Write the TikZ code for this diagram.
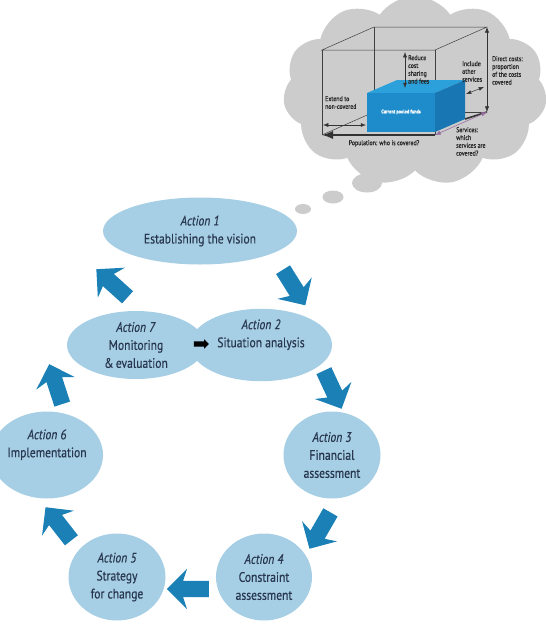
\documentclass[tikz,border=0pt]{standalone}
\usepackage{fontspec}
\setmainfont{PT Sans}[FakeStretch=0.84,FakeBold=0.4]
\usetikzlibrary{shapes.geometric,shapes.symbols,shapes.arrows,arrows.meta}
\definecolor{stepblue}{RGB}{166,206,228}
\definecolor{arrowblue}{RGB}{27,128,182}
\definecolor{inkblue}{RGB}{40,55,80}
\definecolor{cloudgray}{RGB}{204,204,204}
\definecolor{boxfront}{RGB}{30,140,203}
\definecolor{boxtop}{RGB}{44,160,218}
\definecolor{boxside}{RGB}{24,118,178}
\definecolor{servline}{RGB}{150,110,160}

\begin{document}
\begin{tikzpicture}[x=1pt,y=-1pt,>=Latex,
    action/.style={ellipse,fill=stepblue,text=inkblue,align=center,inner sep=0pt,font=\fontsize{13.8}{18}\selectfont},
    turn/.style={single arrow,fill=arrowblue,inner sep=8pt,minimum height=42pt,single arrow head extend=12pt,single arrow head indent=4pt},
    bubble/.style={ellipse,fill=cloudgray,inner sep=0pt},
    note/.style={align=left,inner sep=0pt,text=black!85,font=\fontsize{7}{7.8}\selectfont},
    wire/.style={draw=black!75,line width=0.5pt}]
  \useasboundingbox (0,0) rectangle (546,633);
  % thought cloud
  \node[cloud,cloud puffs=11,cloud puff arc=112,aspect=1.5,fill=cloudgray,inner sep=0pt,minimum width=264pt,minimum height=190pt] (thought) at (415,91) {};
  \node[bubble,minimum width=30pt,minimum height=19pt] (bub1) at (367,183) {};
  \node[bubble,minimum width=21pt,minimum height=13pt] (bub2) at (333,197) {};
  \node[bubble,minimum width=16pt,minimum height=10pt] (bub3) at (303,209) {};
  % cuboid corners
  \coordinate (ftl) at (322,50);  \coordinate (ftr) at (435,50);
  \coordinate (fbl) at (322,135); \coordinate (fbr) at (435,135);
  \coordinate (btl) at (374,27);  \coordinate (btr) at (487,27);
  \coordinate (bbl) at (374,112); \coordinate (bbr) at (487,112);
  \draw[wire] (ftl)--(btl)--(btr)--(ftr)--cycle;
  \draw[wire] (btl)--(bbl)--(bbr);
  \draw[wire] (fbl)--(bbl);
  \draw[wire] (ftl)--(fbl);
  \draw[wire] (ftr)--(fbr);
  % current pooled funds
  \coordinate (pftl) at (367,93);  \coordinate (pftr) at (435,93);
  \coordinate (pfbl) at (367,132); \coordinate (pfbr) at (435,132);
  \coordinate (pbtl) at (397,80);  \coordinate (pbtr) at (465,80);
  \coordinate (pbbr) at (465,119);
  \fill[boxtop] (pftl)--(pftr)--(pbtr)--(pbtl)--cycle;
  \fill[boxside] (pftr)--(pbtr)--(pbbr)--(pfbr)--cycle;
  \fill[boxfront] (pftl) rectangle (pfbr);
  \node[text=white,font=\bfseries\fontsize{5.2}{6}\selectfont,inner sep=0pt] (pooled) at (401,112) {Current pooled funds};
  \draw[black!80,line width=1.6pt] (pbbr)--(bbr);
  \draw[black!80,line width=1.8pt,->] (fbr)--(fbl);
  \draw[servline,line width=0.6pt,<->] (fbr)--(bbr);
  \draw[black!80,line width=0.6pt,<->] (btr)--(bbr);
  \coordinate (redtop) at (405,52); \coordinate (redbot) at (405,88);
  \draw[black!80,line width=0.5pt,<->] (redtop)--(redbot);
  \coordinate (extl) at (323,125); \coordinate (extr) at (366,125);
  \draw[black!80,line width=0.5pt,<->] (extl)--(extr);
  \coordinate (incl) at (466,94); \coordinate (incr) at (484,87);
  \draw[black!80,line width=0.5pt,<->] (incl)--(incr);
  \node[note,anchor=north west] (reduce) at (408,55) {Reduce\\cost\\sharing\\and fees};
  \node[note,anchor=north west] (include) at (462,61) {Include\\other\\services};
  \node[note,anchor=north west] (direct) at (492,56) {Direct costs:\\proportion\\of the costs\\covered};
  \node[note,anchor=north west] (extend) at (325,96) {Extend to\\non-covered};
  \node[note,anchor=north west] (services) at (456,127) {Services:\\which\\services are\\covered?};
  \node[note,anchor=north] (population) at (384,140) {Population: who is covered?};
  % the seven actions
  \node[action,minimum width=194pt,minimum height=67pt] (vision) at (200,231) {\textit{Action 1}\\Establishing the vision};
  \node[action,minimum width=138pt,minimum height=68pt] (monitoring) at (136,345) {\textit{Action 7}\\Monitoring\\\&\,evaluation};
  \node[action,minimum width=142pt,minimum height=68pt] (situation) at (261,345) {\textit{Action 2}\\Situation analysis\\\strut};
  \node[action,minimum width=97pt,minimum height=87pt] (financial) at (332,455) {\textit{Action 3}\\Financial\\assessment};
  \node[action,minimum width=94pt,minimum height=87pt] (implement) at (47,455) {\textit{Action 6}\\Implementation\\\strut};
  \node[action,minimum width=97pt,minimum height=87pt] (strategy) at (117,577) {\textit{Action 5}\\Strategy\\for change};
  \node[action,minimum width=96pt,minimum height=87pt] (constraint) at (264,577) {\textit{Action 4}\\Constraint\\assessment};
  \node[single arrow,fill=black,inner sep=2.5pt,minimum height=15pt,single arrow head extend=2pt] (m2s) at (200,344) {};
  % turning arrows
  \node[turn,rotate=138] (m2v) at (115,286) {};
  \node[turn,rotate=-58] (v2s) at (292,284) {};
  \node[turn,rotate=-65] (s2f) at (331,386) {};
  \node[turn,rotate=-120] (f2c) at (322,527) {};
  \node[turn,rotate=180] (c2s) at (192,589) {};
  \node[turn,rotate=128] (s2i) at (61,527) {};
  \node[turn,rotate=108] (i2m) at (57,388) {};
\end{tikzpicture}
\end{document}
